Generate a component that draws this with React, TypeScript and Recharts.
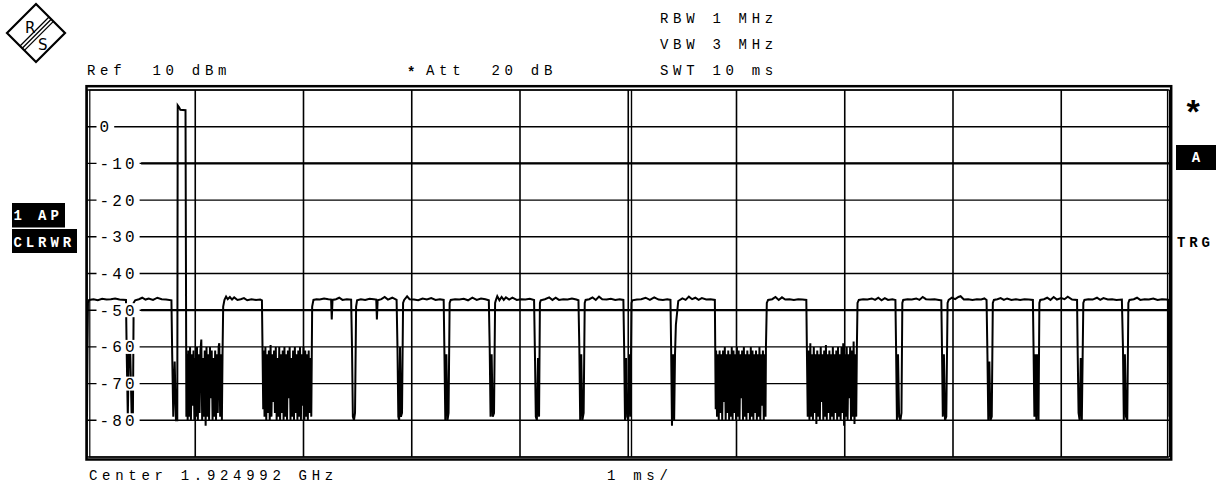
import React from "react";
import { CartesianGrid, Line, LineChart, ReferenceLine, XAxis, YAxis } from "recharts";

const FONT = "'Liberation Mono', 'DejaVu Sans Mono', monospace";

// sweep: 10 ms, 1 ms/div ; level in dBm
const TIME_TICKS = [0, 1, 2, 3, 4, 5, 6, 7, 8, 9, 10];
const LEVEL_TICKS = [-90, -80, -70, -60, -50, -40, -30, -20, -10, 0, 10];
const LEVEL_LABELS = ["-80", "-70", "-60", "-50", "-40", "-30", "-20", "-10", "0"];

const HEADER_LEFT = ["Ref  10 dBm"];
const HEADER_MID = ["Att  20 dB"];
const HEADER_RIGHT = ["RBW 1 MHz", "VBW 3 MHz", "SWT 10 ms"];
const FOOTER = ["Center 1.924992 GHz", "1 ms/"];
const TRACE_TAGS = ["1 AP", "CLRWR"];

// [time ms, level dBm]
const TRACE: [number, number][] = [
  [0.0, -79], [0.004, -62], [0.009, -48], [0.02, -47.2], [0.06, -47], [0.1, -47.3], [0.14, -46.9], [0.18, -47.1],
  [0.22, -47], [0.26, -46.8], [0.3, -47.1], [0.36, -47.2], [0.367, -62], [0.377, -79], [0.387, -60], [0.4, -62],
  [0.412, -78], [0.424, -79], [0.431, -48], [0.445, -47.3], [0.48, -47], [0.51, -46.6],
  [0.54, -47.1], [0.57, -46.8], [0.61, -47.2], [0.65, -46.6], [0.69, -47], [0.73, -47.1], [0.78, -47.3],
  [0.787, -62], [0.797, -79], [0.81, -64], [0.822, -80], [0.834, -80], [0.838, 5.8], [0.852, 5.2],
  [0.862, 4.6], [0.91, 4.5], [0.918, -79], [0.924, -62],
  [0.93, -80], [0.936, -61], [0.944, -79], [0.952, -60], [0.96, -80], [0.968, -62], [0.976, -76], [0.984, -61],
  [0.992, -80], [1.0, -63], [1.008, -79], [1.016, -60], [1.024, -80], [1.032, -62], [1.04, -78], [1.048, -61],
  [1.056, -58], [1.064, -80], [1.072, -63], [1.08, -79], [1.088, -61], [1.096, -81.5], [1.104, -60], [1.112, -79],
  [1.12, -62], [1.128, -80], [1.136, -60], [1.144, -74], [1.152, -61], [1.16, -80], [1.168, -63], [1.176, -79],
  [1.184, -61], [1.192, -80], [1.2, -62], [1.208, -78], [1.216, -60], [1.222, -59], [1.23, -79], [1.238, -62],
  [1.246, -80], [1.252, -62],
  [1.258, -49], [1.27, -47.2], [1.285, -46.3], [1.3, -47], [1.32, -46.4], [1.34, -47.1], [1.36, -46.5], [1.39, -47.2],
  [1.42, -47], [1.45, -46.7], [1.48, -47.3], [1.52, -47], [1.56, -47.2], [1.6, -47.1], [1.616, -47.3], [1.622, -62],
  [1.628, -77],
  [1.634, -61], [1.64, -79], [1.648, -60], [1.656, -80], [1.664, -62], [1.672, -78], [1.68, -61], [1.688, -80],
  [1.696, -59.5], [1.704, -79], [1.712, -62], [1.72, -75], [1.728, -61], [1.736, -78], [1.744, -60], [1.752, -80],
  [1.76, -63], [1.768, -79], [1.776, -60], [1.784, -80], [1.792, -62], [1.8, -78], [1.808, -61], [1.816, -80],
  [1.824, -60], [1.832, -79], [1.84, -62], [1.848, -80], [1.856, -61], [1.864, -74], [1.872, -60], [1.88, -80],
  [1.888, -63], [1.896, -79], [1.904, -61], [1.912, -80], [1.92, -60], [1.928, -78], [1.936, -62], [1.944, -80],
  [1.952, -61], [1.96, -79], [1.968, -60], [1.976, -80], [1.984, -62], [1.992, -76], [2.0, -60], [2.008, -80],
  [2.016, -61], [2.024, -79], [2.032, -62], [2.04, -80], [2.048, -61], [2.056, -78], [2.064, -63], [2.072, -79],
  [2.08, -49], [2.092, -47.2], [2.12, -47], [2.15, -47.1], [2.19, -46.8], [2.23, -47], [2.255, -47.1], [2.261, -52.5],
  [2.268, -47.2], [2.3, -47], [2.33, -46.6], [2.36, -47.2], [2.4, -47], [2.44, -47.1], [2.448, -60], [2.456, -79],
  [2.466, -80], [2.476, -78], [2.486, -49], [2.495, -47.3], [2.53, -47], [2.57, -47.2], [2.61, -46.9], [2.65, -47],
  [2.672, -47.1], [2.678, -52.5], [2.685, -47.3], [2.72, -47], [2.75, -46.4], [2.78, -47.1], [2.82, -46.6],
  [2.86, -47.2], [2.868, -60], [2.876, -79], [2.884, -80], [2.892, -60], [2.9, -79], [2.91, -78], [2.92, -48],
  [2.93, -47.2], [2.957, -46.2], [2.98, -47], [3.02, -47.1], [3.06, -47.3], [3.1, -46.8], [3.14, -47.1], [3.18, -46.7],
  [3.22, -47.2], [3.26, -47], [3.295, -47.2], [3.302, -62], [3.31, -80], [3.32, -62], [3.33, -80], [3.34, -78],
  [3.35, -48], [3.36, -47.2], [3.4, -47], [3.44, -47.1], [3.48, -46.9], [3.52, -47.3], [3.56, -46.6], [3.6, -47.2],
  [3.64, -46.8], [3.68, -47], [3.712, -47.3], [3.72, -60], [3.728, -79], [3.738, -62], [3.748, -79], [3.76, -78],
  [3.77, -48], [3.778, -47.2], [3.79, -46.2], [3.81, -47.3], [3.83, -46.4], [3.85, -47.2], [3.87, -46.5], [3.9, -47.1],
  [3.93, -46.6], [3.97, -47.2], [4.01, -47], [4.05, -47.1], [4.09, -46.9], [4.13, -47.2], [4.138, -62], [4.146, -79],
  [4.156, -80], [4.166, -63], [4.176, -79], [4.184, -48], [4.192, -47.3], [4.23, -47], [4.27, -46.5], [4.3, -47.2],
  [4.33, -46.6], [4.36, -47.2], [4.4, -47], [4.44, -47.1], [4.48, -46.8], [4.52, -47.1], [4.54, -47.3], [4.548, -60],
  [4.556, -80], [4.566, -62], [4.576, -80], [4.588, -78], [4.598, -48], [4.606, -47.2], [4.64, -47], [4.67, -46.5],
  [4.7, -47.2], [4.73, -46.3], [4.76, -47], [4.8, -47.1], [4.84, -46.9], [4.88, -47.2], [4.92, -47], [4.955, -47.2],
  [4.962, -60], [4.97, -80], [4.98, -63], [4.99, -79], [5.0, -80], [5.012, -62], [5.02, -79], [5.03, -48],
  [5.038, -47.3], [5.08, -47.1], [5.12, -47], [5.16, -46.6], [5.2, -47.2], [5.24, -46.5], [5.28, -47.1], [5.32, -47.2],
  [5.36, -47], [5.39, -47.2], [5.396, -60], [5.404, -81.5], [5.414, -62], [5.424, -80], [5.432, -62], [5.44, -54],
  [5.462, -47.5], [5.5, -46.8], [5.53, -47.2], [5.56, -46.3], [5.59, -47], [5.62, -46.6], [5.65, -47.2], [5.68, -46.7],
  [5.72, -47.1], [5.76, -47], [5.8, -47.2], [5.808, -77],
  [5.812, -61], [5.82, -79], [5.828, -62], [5.836, -80], [5.844, -61], [5.852, -78], [5.86, -62], [5.868, -80],
  [5.876, -61], [5.884, -75], [5.892, -60], [5.9, -80], [5.908, -62], [5.916, -78], [5.924, -61], [5.932, -80],
  [5.94, -62], [5.948, -79], [5.956, -60], [5.964, -80], [5.972, -61], [5.98, -78], [5.988, -62], [5.996, -80],
  [6.004, -60], [6.012, -79], [6.02, -61], [6.028, -80], [6.036, -62], [6.044, -74], [6.052, -61], [6.06, -80],
  [6.068, -60], [6.076, -79], [6.084, -62], [6.092, -80], [6.1, -61], [6.108, -78], [6.116, -62], [6.124, -80],
  [6.132, -60], [6.14, -79], [6.148, -61], [6.156, -80], [6.164, -62], [6.172, -78], [6.18, -61], [6.188, -80],
  [6.196, -62], [6.204, -79], [6.212, -60], [6.22, -80], [6.228, -62], [6.236, -76], [6.244, -61], [6.252, -80],
  [6.26, -62], [6.268, -79], [6.272, -60],
  [6.28, -48], [6.292, -47.2], [6.33, -47], [6.36, -46.4], [6.39, -47.2], [6.42, -46.5], [6.45, -47.1], [6.49, -47],
  [6.53, -47.2], [6.57, -47], [6.61, -47.1], [6.645, -47.2], [6.65, -60],
  [6.658, -79], [6.666, -61], [6.674, -80], [6.682, -59], [6.69, -79], [6.698, -62], [6.706, -80], [6.714, -60],
  [6.722, -78], [6.73, -62], [6.738, -81], [6.746, -61], [6.754, -79], [6.762, -62], [6.77, -80], [6.778, -60],
  [6.786, -75], [6.794, -62], [6.802, -80], [6.81, -61], [6.818, -79], [6.826, -59.5], [6.834, -80], [6.842, -62],
  [6.85, -78], [6.858, -61], [6.866, -80], [6.874, -62], [6.882, -79], [6.89, -60], [6.898, -80], [6.906, -62],
  [6.914, -78], [6.922, -61], [6.93, -80], [6.938, -60], [6.946, -79], [6.954, -62], [6.962, -80], [6.97, -60],
  [6.978, -78], [6.986, -59], [6.994, -81.5], [7.002, -62], [7.01, -79], [7.018, -60], [7.026, -80], [7.034, -62],
  [7.042, -74], [7.05, -60], [7.058, -80], [7.066, -61], [7.074, -79], [7.082, -58.5], [7.09, -81], [7.098, -62],
  [7.106, -79], [7.112, -60],
  [7.118, -48], [7.13, -47.2], [7.17, -47], [7.21, -47.1], [7.25, -46.8], [7.28, -47.2], [7.31, -46.6], [7.34, -47.3],
  [7.37, -46.7], [7.4, -47.2], [7.44, -47], [7.468, -47.2], [7.474, -60], [7.482, -80], [7.492, -62], [7.502, -79],
  [7.514, -80], [7.524, -78], [7.532, -48], [7.54, -47.2], [7.58, -47], [7.62, -47.1], [7.66, -46.8], [7.69, -47.2],
  [7.72, -46.4], [7.75, -47], [7.79, -47.1], [7.83, -47], [7.87, -47.2], [7.892, -47.3], [7.898, -60], [7.906, -79],
  [7.916, -62], [7.926, -80], [7.938, -79], [7.95, -48], [7.96, -47.2], [7.99, -46.6], [8.02, -47], [8.05, -46.4],
  [8.07, -46.2], [8.1, -47.1], [8.14, -47], [8.18, -47.2], [8.22, -47], [8.26, -47.1], [8.29, -46.8], [8.31, -47.2],
  [8.318, -62], [8.326, -80], [8.336, -64], [8.346, -80], [8.358, -79], [8.368, -48], [8.378, -47.2], [8.41, -47],
  [8.44, -46.7], [8.47, -47.2], [8.5, -46.8], [8.54, -47.2], [8.58, -47], [8.62, -47.2], [8.66, -47], [8.7, -47.1],
  [8.738, -47.2], [8.744, -60], [8.752, -79], [8.762, -62], [8.77, -80], [8.78, -62], [8.79, -80], [8.798, -48],
  [8.806, -47.2], [8.84, -47], [8.87, -46.6], [8.9, -47.2], [8.93, -46.4], [8.96, -47.1], [9.0, -46.7], [9.03, -47],
  [9.06, -46.3], [9.1, -47.1], [9.146, -47.2], [9.152, -62], [9.16, -78], [9.17, -80], [9.18, -63], [9.19, -80],
  [9.204, -48], [9.214, -47.2], [9.25, -47], [9.29, -47.1], [9.33, -46.6], [9.36, -47.2], [9.39, -46.7], [9.43, -47.1],
  [9.47, -47], [9.51, -47.2], [9.56, -47.1], [9.57, -60], [9.578, -80], [9.588, -62], [9.598, -79], [9.61, -80],
  [9.62, -48], [9.63, -47.2], [9.67, -47], [9.7, -46.6], [9.73, -47.2], [9.77, -47], [9.81, -47.1], [9.85, -46.8],
  [9.89, -47.2], [9.93, -47], [9.97, -47.1], [9.99, -47.2], [9.996, -60], [10.0, -79],
];

const data = TRACE.map(([t, level]) => ({ t, level }));

function LevelTick(props: any) {
  const { y, payload } = props;
  const idx = LEVEL_TICKS.indexOf(payload.value);
  const label = payload.value === 10 || payload.value === -90 ? null : LEVEL_LABELS[idx - 1];
  if (!label) return null;
  return (
    <g>
      <rect x={96.5} y={y - 7} width={5 + label.length * 12.7} height={14} fill="#fff" />
      <text
        x={99.5}
        y={y + 5.5}
        fontFamily={FONT}
        fontSize={16}
        style={{ letterSpacing: 3.1 }}
        fill="#000"
      >
        {label}
      </text>
    </g>
  );
}

const txt = {
  fontFamily: FONT,
  fontSize: 14,
  fill: "#000",
  style: { letterSpacing: 4.7, whiteSpace: "pre" as const },
};
const bold = { fontFamily: FONT, fontSize: 14, fontWeight: 700, style: { letterSpacing: 3.9 } };

export default function App() {
  return (
    <div style={{ position: "absolute", left: 0, top: 0, width: 1222, height: 488, background: "#fff" }}>
      <LineChart width={1222} height={488} data={data} margin={{ top: 90, right: 52.5, left: 0, bottom: 0 }}>
        <CartesianGrid stroke="#000" strokeWidth={1.4} vertical={false} />
        <XAxis
          dataKey="t"
          type="number"
          domain={[0, 10]}
          ticks={TIME_TICKS}
          height={31}
          tick={false}
          axisLine={false}
          tickLine={false}
        />
        <YAxis
          type="number"
          domain={[-90, 10]}
          ticks={LEVEL_TICKS}
          width={87}
          axisLine={false}
          tickLine={false}
          tick={<LevelTick />}
        />
        {TIME_TICKS.map((t) => (
          <ReferenceLine key={t} x={t} stroke="#000" strokeWidth={1.6} />
        ))}
        <ReferenceLine x={5.03} stroke="#000" strokeWidth={1.4} />
        <ReferenceLine segment={[{ x: 0.5, y: -10 }, { x: 10, y: -10 }]} stroke="#000" strokeWidth={2.2} />
        <ReferenceLine segment={[{ x: 0.5, y: -50 }, { x: 10, y: -50 }]} stroke="#000" strokeWidth={2.2} />
        <Line
          type="linear"
          dataKey="level"
          stroke="#000"
          strokeWidth={2}
          dot={false}
          isAnimationActive={false}
        />
      </LineChart>

      <svg
        width={1222}
        height={488}
        style={{ position: "absolute", left: 0, top: 0, pointerEvents: "none" }}
      >
        {/* R&S logo */}
        <polygon points="36,4 65,33 36,62 7,33" fill="#fff" stroke="#000" strokeWidth={2.2} />
        <line x1={49} y1={17} x2={20} y2={46} stroke="#000" strokeWidth={1.3} />
        <line x1={51.2} y1={19.2} x2={22.2} y2={48.2} stroke="#000" strokeWidth={1.3} />
        <line x1={53.4} y1={21.4} x2={24.4} y2={50.4} stroke="#000" strokeWidth={1.3} />
        <text x={25} y={33} fontFamily="'DejaVu Sans', sans-serif" fontSize={15} fill="#000">R</text>
        <text x={38} y={50} fontFamily="'DejaVu Sans', sans-serif" fontSize={15} fill="#000">S</text>

        {/* frame */}
        <rect x={86.5} y={86.2} width={1084.7} height={373.3} fill="none" stroke="#000" strokeWidth={2.5} />
        <rect x={89.8} y={90} width={1077.7} height={367} fill="none" stroke="#000" strokeWidth={1.2} />

        {/* header */}
        <text x={87} y={75} {...txt}>{HEADER_LEFT[0]}</text>
        <text x={407} y={77} fontFamily={FONT} fontSize={14} fontWeight={700} fill="#000">*</text>
        <text x={426} y={74.5} {...txt}>{HEADER_MID[0]}</text>
        {HEADER_RIGHT.map((s, i) => (
          <text key={s} x={660} y={22.5 + i * 26} {...txt}>{s}</text>
        ))}

        {/* footer */}
        <text x={89} y={480} {...txt}>{FOOTER[0]}</text>
        <text x={607} y={480} {...txt}>{FOOTER[1]}</text>

        {/* trace tags */}
        <rect x={12} y={203} width={53} height={24.5} fill="#000" />
        <text x={13.5} y={220} {...bold} fill="#fff">{TRACE_TAGS[0]}</text>
        <rect x={12} y={229} width={65} height={24} fill="#000" />
        <text x={13.5} y={247} {...bold} fill="#fff">{TRACE_TAGS[1]}</text>

        {/* right side */}
        <text x={1183} y={124} fontFamily={FONT} fontSize={34} fontWeight={700} fill="#000">*</text>
        <rect x={1176} y={145} width={40} height={25} fill="#000" />
        <text x={1196} y={162} textAnchor="middle" fontFamily={FONT} fontSize={14} fontWeight={700} fill="#fff">A</text>
        <text x={1177} y={247} {...bold} fill="#000">TRG</text>
      </svg>
    </div>
  );
}
